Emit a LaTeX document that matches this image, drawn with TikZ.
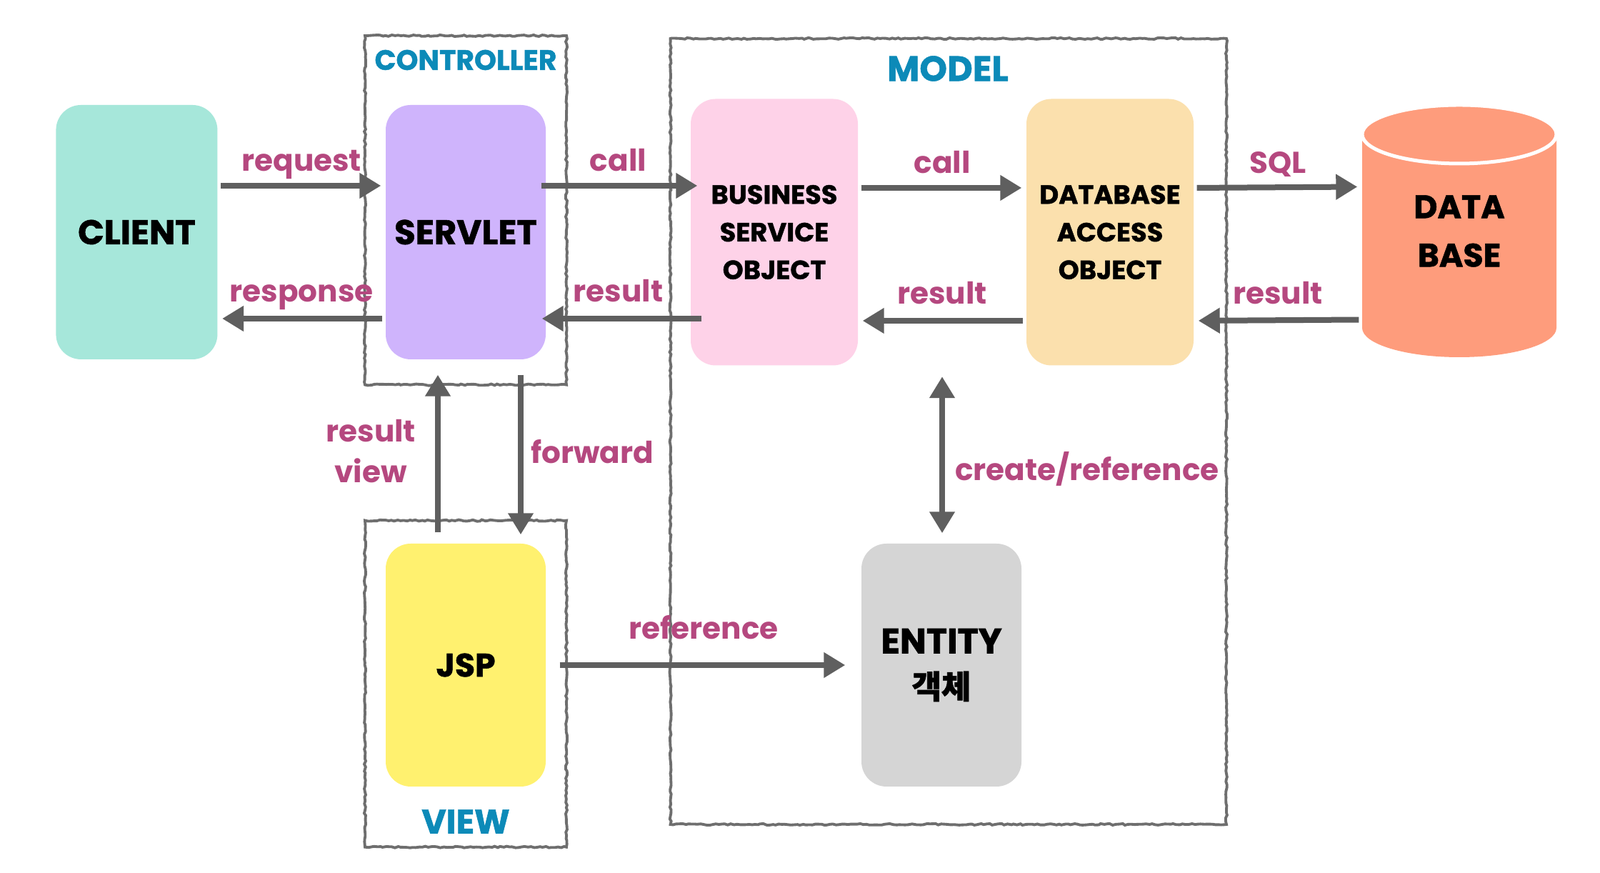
\documentclass[tikz,border=0pt]{standalone}
\usepackage{fontspec}
\setmainfont{Poppins}
\newfontfamily\heavyfont{Poppins}[BoldFeatures={FakeBold=1.2}]
\newfontfamily\krfont{Noto Sans CJK KR}[BoldFeatures={FakeBold=1.5}]
\usetikzlibrary{arrows.meta,calc,decorations.pathmorphing}

\definecolor{lblmagenta}{HTML}{B5487F}
\definecolor{titleblue}{HTML}{0C8AB8}
\definecolor{arrgray}{HTML}{5F5F5F}
\definecolor{framegray}{HTML}{6E6E6E}
\definecolor{clientfill}{HTML}{A6E7DA}
\definecolor{servletfill}{HTML}{CFB4FC}
\definecolor{bsofill}{HTML}{FED2E8}
\definecolor{daofill}{HTML}{FBE0AD}
\definecolor{dbfill}{HTML}{FE9C7C}
\definecolor{jspfill}{HTML}{FFF16F}
\definecolor{entityfill}{HTML}{D5D5D5}

\begin{document}
\begin{tikzpicture}[
                >={Triangle[length=0.3cm,width=0.34cm]},
                boxnode/.style={rounded corners=0.35cm, inner sep=0pt, align=center,
                    minimum width=2.24cm, font=\heavyfont\bfseries\fontsize{13.7}{18}\selectfont},
                smalltext/.style={font=\heavyfont\bfseries\fontsize{10.5}{15}\selectfont},
                arr/.style={->, line width=0.08cm, arrgray, shorten <=0.04cm, shorten >=0.06cm},
                lbltext/.style={text=lblmagenta, inner sep=0pt, align=center,
                    font=\bfseries\fontsize{12}{16.2}\selectfont},
                grptitle/.style={text=titleblue, inner sep=0pt, font=\heavyfont\bfseries\fontsize{14}{15}\selectfont},
                grpframe/.style={draw=framegray, line width=1.1pt, decorate,
                    decoration={random steps, segment length=1.2pt, amplitude=0.3pt}}
            ]
            \fill[white] (0,0) rectangle (22.4,12.22);
            \useasboundingbox (0,0) rectangle (22.4,12.22);

            % 外框
            \draw[grpframe] (5.11,11.72) rectangle (7.93,6.834);
            \draw[grpframe] (9.386,11.68) rectangle (17.17,0.68);
            \draw[grpframe] (5.11,4.934) rectangle (7.93,0.363);
            \node[grptitle, font=\heavyfont\bfseries\fontsize{11.2}{13}\selectfont] (ctltitle) at (6.52,11.38) {CONTROLLER};
            \node[grptitle] (modeltitle) at (13.27,11.26) {MODEL};
            \node[grptitle, font=\heavyfont\bfseries\fontsize{13.4}{15}\selectfont] (viewtitle) at (6.52,0.72) {VIEW};

            % 方块
            \node[boxnode, fill=clientfill, minimum width=2.26cm, minimum height=3.56cm] (client) at (1.914,8.97) {CLIENT};
            \node[boxnode, fill=servletfill, minimum height=3.56cm] (servlet) at (6.52,8.97) {SERVLET};
            \node[boxnode, smalltext, fill=bsofill, minimum width=2.34cm, minimum height=3.73cm] (bso) at (10.84,8.97) {BUSINESS\\SERVICE\\OBJECT};
            \node[boxnode, smalltext, fill=daofill, minimum width=2.34cm, minimum height=3.73cm] (dao) at (15.54,8.97) {DATABASE\\ACCESS\\OBJECT};
            \node[boxnode, font=\heavyfont\bfseries\fontsize{13}{18}\selectfont, fill=jspfill, minimum height=3.40cm] (jsp) at (6.52,2.91) {JSP};
            \node[boxnode, font=\heavyfont\bfseries\fontsize{14}{18}\selectfont, fill=entityfill, minimum height=3.40cm] (entity) at (13.18,2.91) {ENTITY\\{\krfont\bfseries\fontsize{12.8}{18}\selectfont 객체}};

            % 数据库圆柱
            \fill[dbfill] (19.07,10.34) -- (19.07,7.63) arc[start angle=180, end angle=360, x radius=1.36cm, y radius=0.41cm]
                -- (21.79,10.34) arc[start angle=0, end angle=180, x radius=1.36cm, y radius=0.41cm] -- cycle;
            \draw[white, line width=0.05cm, fill=dbfill] (20.43,10.34) ellipse[x radius=1.36cm, y radius=0.41cm];
            \node[boxnode, font=\heavyfont\bfseries\fontsize{13}{19.3}\selectfont, minimum width=2.72cm, minimum height=3.53cm] (db) at (20.43,8.985) {DATA\\BASE};

            % 箭头
            \draw[arr] ([yshift=0.65cm]client.east) -- ([yshift=0.65cm]servlet.west)
                node[lbltext, midway, anchor=base, yshift=0.2cm] {request};
            \draw[arr] ([yshift=-1.21cm]servlet.west) -- ([yshift=-1.21cm]client.east)
                node[lbltext, midway, anchor=base, yshift=0.23cm] {response};
            \draw[arr, shorten <=-0.07cm, shorten >=-0.1cm] ([yshift=0.65cm]servlet.east) -- ([yshift=0.65cm]bso.west)
                node[lbltext, midway, anchor=base, yshift=0.2cm] {call};
            \draw[arr, shorten <=-0.16cm, shorten >=-0.06cm] ([yshift=-1.21cm]bso.west) -- ([yshift=-1.21cm]servlet.east)
                node[lbltext, midway, anchor=base, yshift=0.23cm] {result};
            \draw[arr] ([yshift=0.62cm]bso.east) -- ([yshift=0.62cm]dao.west)
                node[lbltext, midway, anchor=base, yshift=0.2cm] {call};
            \draw[arr] ([yshift=-1.24cm]dao.west) -- ([yshift=-1.24cm]bso.east)
                node[lbltext, midway, anchor=base, yshift=0.23cm] {result};
            \draw[arr] ([yshift=0.62cm]dao.east) -- ([yshift=0.62cm]db.west)
                node[lbltext, midway, anchor=base, yshift=0.2cm] {SQL};
            \draw[arr] ([yshift=-1.24cm]db.west) -- ([yshift=-1.24cm]dao.east)
                node[lbltext, midway, anchor=base, yshift=0.23cm] {result};

            % 上下箭头
            \draw[arr, shorten <=0.15cm, shorten >=0.21cm] ([xshift=-0.39cm]jsp.north) -- ([xshift=-0.39cm]servlet.south)
                node[lbltext, midway, left=0.27cm] {result\\view};
            \draw[arr, shorten <=0.21cm, shorten >=0.12cm] ([xshift=0.77cm]servlet.south) -- ([xshift=0.77cm]jsp.north)
                node[lbltext, midway, right=0.1cm] {forward};
            \coordinate (crtop) at ($(bso.south)!0.5!(dao.south)$);
            \draw[arr, <->, shorten <=0.15cm, shorten >=0.14cm] (crtop) -- (crtop |- entity.north)
                node[lbltext, midway, right=0.14cm, yshift=-0.2cm] {create/reference};
            \draw[arr, shorten <=0.19cm, shorten >=0.22cm] (jsp.east) -- (entity.west)
                node[lbltext, midway, anchor=base, yshift=0.36cm] {reference};
\end{tikzpicture}
\end{document}
